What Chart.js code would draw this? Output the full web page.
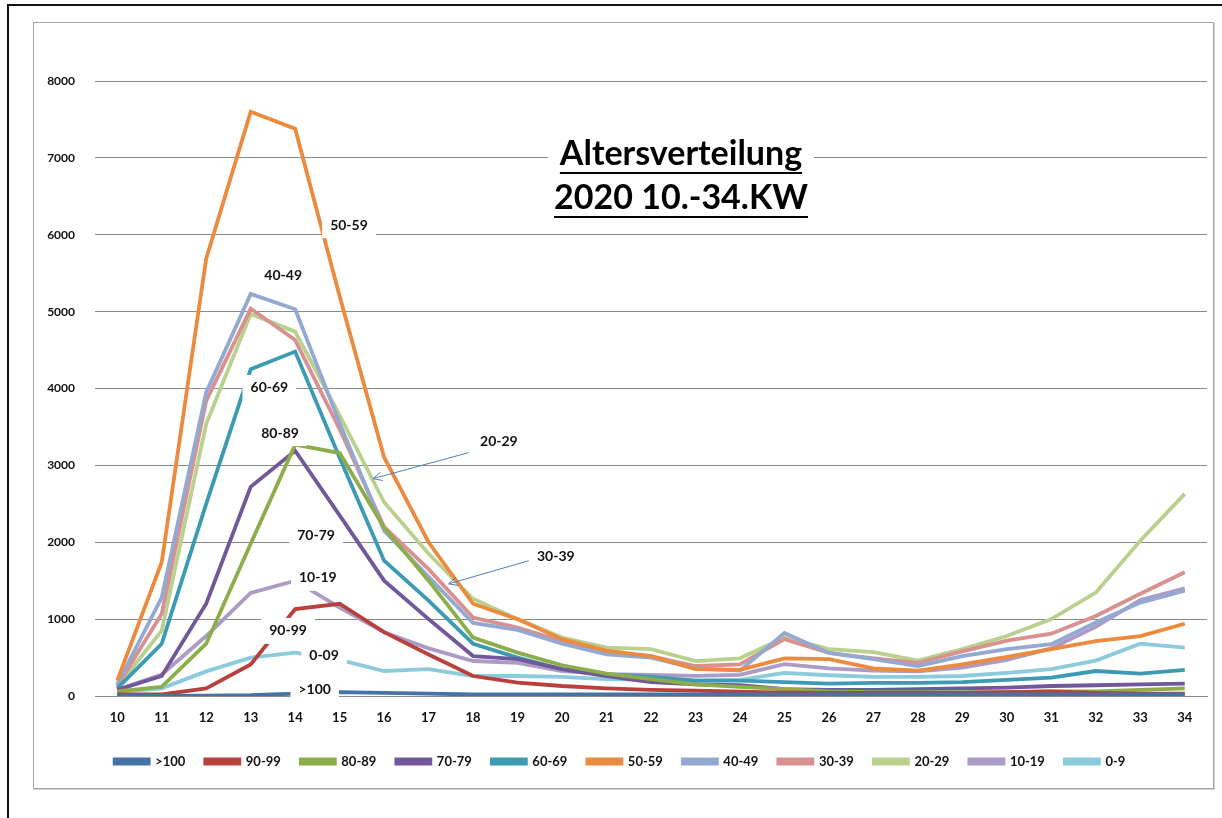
<!DOCTYPE html>
<html>
<head>
<meta charset="utf-8">
<script src="https://cdn.jsdelivr.net/npm/chart.js@4.4.1/dist/chart.umd.min.js"></script>
<style>
    body { margin: 0; background: #fff; }
    #page { position: relative; width: 1222px; height: 818px; overflow: hidden; }
    #frame { position: absolute; left: 7px; top: 4px; width: 1230px; height: 830px;
             border-left: 2px solid #111; border-top: 2px solid #111; }
    #box { position: absolute; left: 33px; top: 22px; width: 1179px; height: 765px;
           border: 1px solid #a6a6a6; box-shadow: 1px 1px 0 #d0d0d0; }
    #wrap { position: absolute; left: 0; top: 0; width: 1222px; height: 818px; }
</style>
</head>
<body>
<div id="page">
    <div id="frame"></div>
    <div id="box"></div>
    <div id="wrap"><canvas id="ageChart"></canvas></div>
</div>
<script>
// Kalenderwochen 10 - 34
const weeks = ['10','11','12','13','14','15','16','17','18','19','20','21','22',
               '23','24','25','26','27','28','29','30','31','32','33','34'];

// Fälle je Altersgruppe (aus dem Bild geschätzt)
const age100 = [0, 0, 5, 10, 30, 50, 40, 30, 20, 20, 20, 20, 20, 20, 20, 20, 20, 20, 20, 20, 20, 20, 20, 20, 20];
const age90 = [20, 20, 100, 410, 1130, 1200, 830, 540, 260, 175, 130, 100, 80, 70, 55, 45, 40, 40, 40, 40, 50, 60, 40, 30, 30];
const age80 = [60, 120, 680, 1980, 3270, 3160, 2190, 1500, 760, 565, 400, 290, 220, 150, 120, 90, 60, 50, 50, 50, 50, 60, 60, 80, 100];
const age70 = [80, 260, 1200, 2720, 3190, 2350, 1500, 1000, 520, 480, 350, 260, 180, 150, 140, 90, 80, 80, 90, 100, 110, 130, 140, 150, 160];
const age60 = [100, 680, 2500, 4250, 4480, 3100, 1760, 1240, 680, 500, 350, 285, 250, 200, 200, 180, 160, 170, 170, 180, 210, 240, 325, 290, 340];
const age50 = [200, 1740, 5690, 7600, 7380, 5200, 3105, 2000, 1200, 1000, 740, 590, 520, 350, 340, 490, 480, 360, 330, 410, 510, 610, 715, 780, 940];
const age40 = [150, 1280, 3950, 5230, 5030, 3550, 2150, 1550, 950, 860, 680, 540, 500, 360, 330, 820, 560, 480, 390, 520, 610, 675, 955, 1215, 1370];
const age30 = [130, 1070, 3840, 5040, 4630, 3470, 2200, 1650, 1020, 890, 715, 565, 520, 390, 410, 740, 560, 490, 430, 580, 720, 810, 1040, 1330, 1610];
const age20 = [120, 850, 3540, 4970, 4740, 3650, 2520, 1850, 1265, 1000, 760, 630, 610, 455, 490, 760, 610, 570, 460, 610, 780, 1000, 1345, 2020, 2630];
const age10 = [80, 280, 780, 1340, 1500, 1150, 830, 620, 455, 430, 325, 285, 275, 263, 275, 415, 360, 330, 320, 370, 470, 620, 900, 1250, 1400];
const age0 = [50, 100, 320, 500, 565, 470, 325, 350, 260, 260, 250, 220, 210, 200, 210, 300, 270, 250, 250, 260, 300, 350, 460, 680, 630];

const groupNames = ['>100', '90-99', '80-89', '70-79', '60-69', '50-59', '40-49', '30-39', '20-29', '10-19', '0-9'];
const groupValues = [age100, age90, age80, age70, age60, age50, age40, age30, age20, age10, age0];
const groupColors = ['#4572a7', '#b8413e', '#8bae4a', '#71589a', '#3c9ab3', '#ec8a3d',
                     '#93a9d2', '#d9918f', '#b9d08f', '#ab9bc6', '#8ccbdc'];

// Beschriftungen im Diagramm: Text, Position (Index der Woche, Wert)
const labelTexts = ['50-59', '40-49', '60-69', '80-89', '70-79', '10-19', '90-99', '0-09', '>100', '20-29', '30-39'];
const labelX = [5.21, 3.73, 3.42, 3.66, 4.47, 4.51, 3.84, 4.65, 4.44, 8.58, 9.86];
const labelY = [6124, 5472, 4007, 3420, 2085, 1537, 847, 521, 91, 3309, 1811];

// Pfeile: von (x1,y1) nach (x2,y2) in Datenkoordinaten
const arrowFrom = [[7.9, 3166], [9.25, 1759]];
const arrowTo = [[5.75, 2827], [7.45, 1459]];

const titleLines = ['Altersverteilung', '2020 10.-34.KW'];

const FONT = 'Lato, "Open Sans", sans-serif';

const datasets = groupNames.map((name, i) => ({
    label: name,
    data: groupValues[i],
    borderColor: groupColors[i],
    backgroundColor: groupColors[i],
    borderWidth: 3.8,
    pointRadius: 0,
    tension: 0,
    borderJoinStyle: 'miter'
}));

// Zeichnet Titel, Beschriftungen und Pfeile über die Linien
const annotations = {
    id: 'annotations',
    afterDatasetsDraw(chart) {
        const c = chart.ctx;
        const xs = chart.scales.x;
        const ys = chart.scales.y;
        const px = v => xs.getPixelForValue(0) + v * (xs.getPixelForValue(1) - xs.getPixelForValue(0));

        c.save();
        // arrows
        c.strokeStyle = '#4f7fc0';
        c.lineWidth = 1;
        arrowFrom.forEach((a, i) => {
            const x1 = px(a[0]), y1 = ys.getPixelForValue(a[1]);
            const x2 = px(arrowTo[i][0]), y2 = ys.getPixelForValue(arrowTo[i][1]);
            c.beginPath();
            c.moveTo(x1, y1);
            c.lineTo(x2, y2);
            const ang = Math.atan2(y2 - y1, x2 - x1);
            c.moveTo(x2 - 10 * Math.cos(ang - 0.45), y2 - 10 * Math.sin(ang - 0.45));
            c.lineTo(x2, y2);
            c.lineTo(x2 - 10 * Math.cos(ang + 0.45), y2 - 10 * Math.sin(ang + 0.45));
            c.stroke();
        });

        // data labels with white box
        c.font = 'bold 14px ' + FONT;
        c.textAlign = 'center';
        c.textBaseline = 'middle';
        labelTexts.forEach((t, i) => {
            const x = px(labelX[i]), y = ys.getPixelForValue(labelY[i]);
            const w = c.measureText(t).width + 16;
            c.fillStyle = '#fff';
            c.fillRect(x - w / 2, y - 13, w, 26);
            c.fillStyle = '#111';
            c.fillText(t, x, y);
        });

        // title
        c.font = 'bold 34px ' + FONT;
        const tx = 681;
        const ty = [154, 198];
        const tw = Math.max(...titleLines.map(t => c.measureText(t).width));
        c.fillStyle = '#fff';
        c.fillRect(tx - tw / 2 - 6, ty[0] - 24, tw + 12, ty[1] - ty[0] + 52);
        titleLines.forEach((t, i) => {
            const w = c.measureText(t).width;
            c.fillStyle = '#000';
            c.fillText(t, tx, ty[i]);
            c.fillRect(tx - w / 2, ty[i] + 18, w, 2);
        });
        c.restore();
    }
};

const ctx = document.getElementById('ageChart').getContext('2d');
const ageChart = new Chart(ctx, {
    type: 'line',
    data: { labels: weeks, datasets: datasets },
    options: {
        responsive: true,
        maintainAspectRatio: false,
        animation: false,
        layout: { padding: { left: 33, right: 15, top: 81, bottom: 40 } },
        scales: {
            x: {
                offset: true,
                grid: { display: false, drawTicks: false },
                border: { display: true, color: '#8a8a8a', width: 1 },
                ticks: { color: '#111', font: { family: FONT, size: 13, weight: 'bold' }, padding: 14 },
                afterFit: scale => { scale.height = 39; }
            },
            y: {
                min: 0,
                max: 8000,
                grid: { color: '#8a8a8a', lineWidth: 1, drawTicks: false },
                border: { display: false },
                ticks: {
                    stepSize: 1000,
                    color: '#111',
                    font: { family: FONT, size: 12, weight: 'bold' },
                    padding: 20,
                    callback: value => String(value)
                },
                afterFit: scale => { scale.width = 62; }
            }
        },
        plugins: {
            legend: {
                position: 'bottom',
                labels: {
                    boxWidth: 34,
                    boxHeight: 4,
                    padding: 20,
                    color: '#111',
                    font: { family: FONT, size: 13, weight: 'bold' }
                }
            },
            tooltip: { enabled: false }
        }
    },
    plugins: [annotations]
});
</script>
</body>
</html>
